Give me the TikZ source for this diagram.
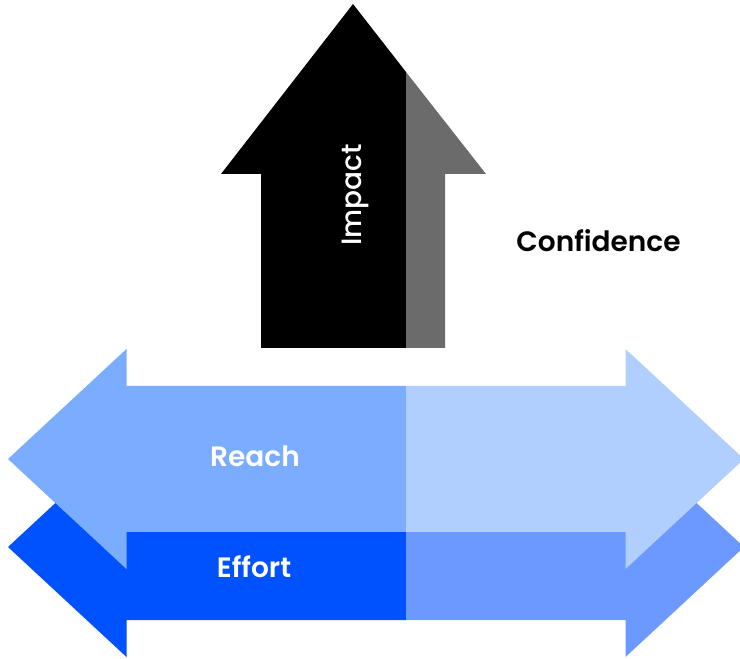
\documentclass[tikz,border=0pt]{standalone}
\usepackage{fontspec}
\setmainfont{Poppins}[BoldFont={Poppins SemiBold}]
\newfontfamily\impactfont{Poppins Medium}
\usepackage{tikz}

\definecolor{impactblack}{RGB}{0,0,0}
\definecolor{impactgray}{RGB}{107,107,107}
\definecolor{reachleft}{RGB}{122,172,255}
\definecolor{reachright}{RGB}{176,207,255}
\definecolor{effortleft}{RGB}{0,82,255}
\definecolor{effortright}{RGB}{107,153,255}

\tikzset{
	arrowtxt/.style={text=white, font=\bfseries\fontsize{21}{25}\selectfont, inner sep=0.75pt},
	sidetxt/.style={text=black, font=\bfseries\fontsize{21}{25}\selectfont, inner sep=0.75pt}
}

\begin{document}
\begin{tikzpicture}[x=0.75pt,y=0.75pt,yscale=-1,xscale=1]
	\useasboundingbox (0,0) rectangle (740,659);
	
	%Shape: Up Arrow, black part 
	\fill [impactblack] (261,348) -- (261,174) -- (221,174) -- (353,4) -- (406,72) -- (406,348) -- cycle ;
	%Shape: Up Arrow, gray part 
	\fill [impactgray] (406,72) -- (486,174) -- (445,174) -- (445,348) -- (406,348) -- cycle ;
	
	%Shape: Double Arrow (lower), left part 
	\fill [effortleft] (8,547) -- (126.5,437) -- (126.5,474) -- (406,474) -- (406,620) -- (126.5,620) -- (126.5,657) -- cycle ;
	%Shape: Double Arrow (lower), right part 
	\fill [effortright] (406,474) -- (625.5,474) -- (625.5,437) -- (744,547) -- (625.5,657) -- (625.5,620) -- (406,620) -- cycle ;
	
	%Shape: Double Arrow (upper), left part 
	\fill [reachleft] (8,459) -- (126.5,349) -- (126.5,386) -- (406,386) -- (406,532) -- (126.5,532) -- (126.5,569) -- cycle ;
	%Shape: Double Arrow (upper), right part 
	\fill [reachright] (406,386) -- (625.5,386) -- (625.5,349) -- (744,459) -- (625.5,569) -- (625.5,532) -- (406,532) -- cycle ;
	
	% Text Node
	\node (impact) at (361,195) [arrowtxt, font=\impactfont\fontsize{21}{25}\selectfont, anchor=base, rotate=90] {Impact};
	% Text Node
	\node (confidence) at (598.5,252) [sidetxt, anchor=base] {Confidence};
	% Text Node
	\node (reach) at (255,467) [arrowtxt, anchor=base] {Reach};
	% Text Node
	\node (effort) at (254,578) [arrowtxt, anchor=base] {Effort};
	
\end{tikzpicture}
\end{document}
